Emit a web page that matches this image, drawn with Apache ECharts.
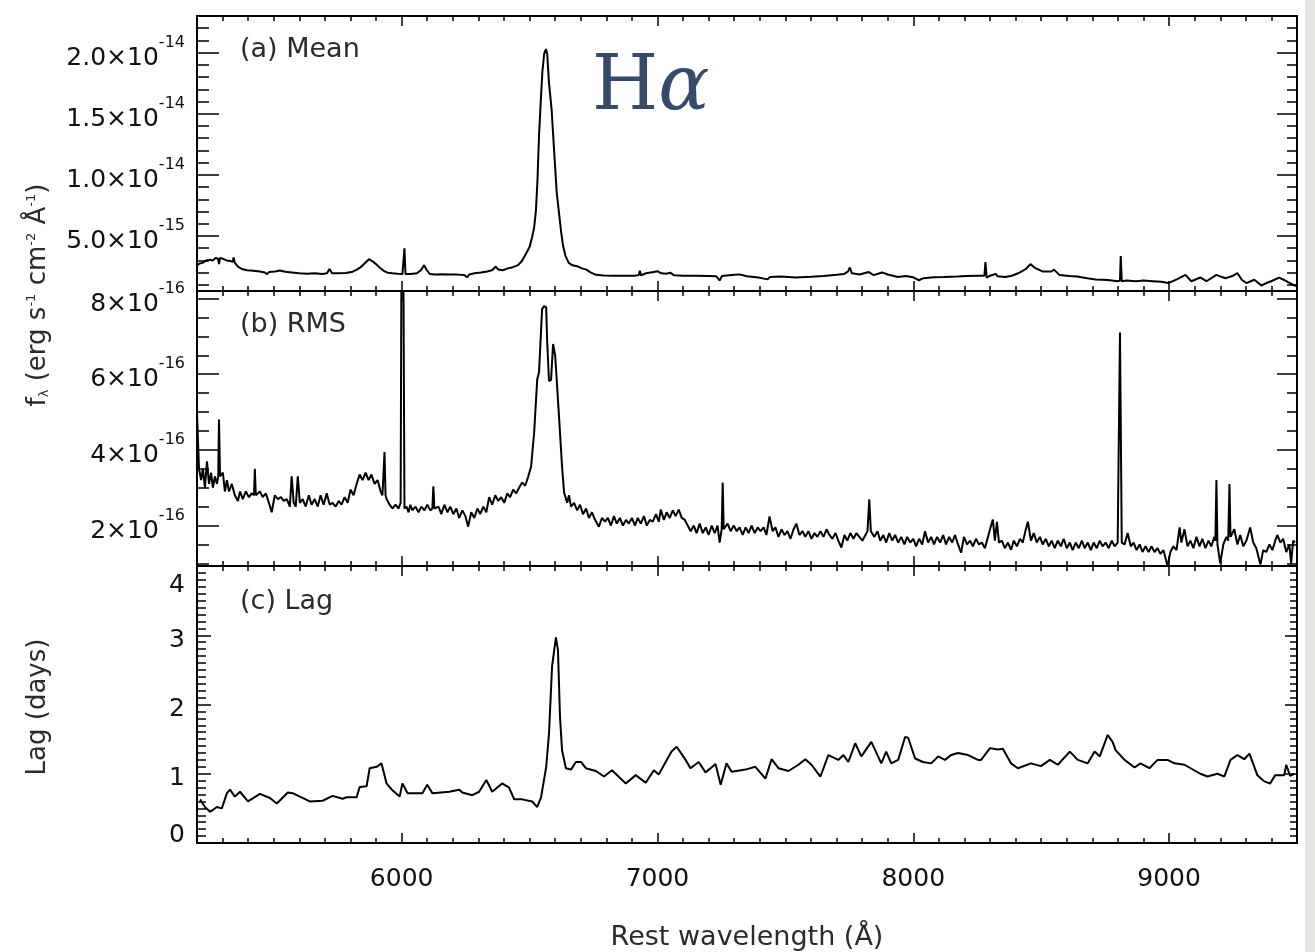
<!DOCTYPE html>
<html>
<head>
<meta charset="utf-8">
<script src="https://cdn.jsdelivr.net/npm/echarts@6/dist/echarts.min.js"></script>
<style>
  html, body { margin: 0; background: #fff; }
  #chart { width: 1315px; height: 952px; }
</style>
</head>
<body>
<div id="chart"></div>
<script>
// wavelength axis (Angstrom)
const waveMin = 5200, waveMax = 9500;
const waveTicks = [6000, 7000, 8000, 9000];

// (a) mean flux, in units of 1e-15 erg/s/cm2/A
const meanTicks = [5, 10, 15, 20];
const meanTickMant = ['5.0', '1.0', '1.5', '2.0'];
const meanTickExp = ['-15', '-14', '-14', '-14'];
const meanSpec = [
  [5200,2.6],[5210,2.75],[5222,2.8],[5235,3.0],[5250,3.05],[5262,3.0],[5272,3.2],[5282,3.15],[5286,2.7],[5290,3.2],
  [5300,3.15],[5315,3.0],[5330,2.95],[5340,2.9],[5343,3.25],[5347,2.85],[5360,2.5],[5375,2.3],[5395,2.2],[5420,2.15],
  [5445,2.1],[5465,2.02],[5473,1.88],[5482,2.05],[5505,2.1],[5524,2.17],[5545,2.08],[5570,2.02],[5600,1.95],[5630,1.92],
  [5660,1.95],[5690,1.9],[5708,1.95],[5718,2.3],[5728,1.95],[5750,1.95],[5780,1.98],[5805,2.05],[5825,2.25],[5840,2.45],
  [5855,2.75],[5872,3.1],[5885,2.95],[5900,2.7],[5915,2.4],[5930,2.15],[5945,2.0],[5965,1.95],[5985,1.92],[6003,1.9],
  [6007,2.0],[6011,4.0],[6015,1.9],[6035,1.9],[6060,1.95],[6075,2.2],[6088,2.62],[6098,2.2],[6110,1.9],[6130,1.85],
  [6160,1.88],[6190,1.84],[6220,1.84],[6245,1.8],[6256,1.62],[6264,1.85],[6285,1.95],[6310,2.02],[6335,2.1],[6355,2.22],
  [6368,2.5],[6378,2.25],[6395,2.2],[6415,2.35],[6435,2.45],[6455,2.62],[6470,2.95],[6486,3.55],[6500,4.1],[6510,4.9],
  [6518,5.7],[6525,7.1],[6531,9.6],[6537,13.2],[6544,16.1],[6550,18.4],[6557,19.9],[6564,20.3],[6569,19.9],[6576,17.5],
  [6586,15.4],[6596,12.0],[6606,8.6],[6615,6.9],[6623,5.4],[6631,4.2],[6640,3.4],[6653,2.8],[6668,2.6],[6690,2.5],
  [6705,2.35],[6722,2.25],[6740,2.0],[6760,1.82],[6790,1.76],[6830,1.74],[6870,1.75],[6910,1.74],[6927,1.8],[6931,2.15],
  [6936,1.78],[6955,1.95],[6985,2.05],[7000,2.12],[7015,1.95],[7035,1.92],[7050,2.0],[7065,1.78],[7100,1.74],[7150,1.74],
  [7200,1.72],[7230,1.7],[7243,1.36],[7252,1.72],[7290,1.8],[7320,1.86],[7350,1.7],[7395,1.6],[7430,1.45],[7440,1.65],
  [7480,1.68],[7540,1.6],[7600,1.66],[7650,1.72],[7700,1.82],[7730,1.9],[7745,2.1],[7752,2.42],[7760,1.95],[7790,1.85],
  [7826,2.05],[7845,1.8],[7878,2.02],[7900,1.85],[7940,1.65],[7970,1.72],[8000,1.62],[8022,1.38],[8040,1.55],[8080,1.62],
  [8120,1.64],[8170,1.68],[8210,1.72],[8250,1.75],[8278,1.75],[8282,2.86],[8287,1.6],[8300,1.75],[8322,1.9],[8330,1.7],
  [8360,1.65],[8385,1.75],[8410,1.95],[8440,2.3],[8458,2.7],[8475,2.4],[8505,2.1],[8540,2.1],[8550,2.25],[8572,1.8],
  [8610,1.72],[8640,1.68],[8680,1.55],[8713,1.45],[8760,1.4],[8800,1.3],[8808,1.35],[8811,3.37],[8815,1.3],[8834,1.35],
  [8870,1.3],[8900,1.35],[8936,1.3],[8970,1.25],[8997,1.15],[9030,1.45],[9064,1.82],[9087,1.3],[9110,1.5],[9123,1.6],
  [9146,1.3],[9185,1.82],[9205,1.65],[9222,1.55],[9250,1.75],[9267,1.96],[9285,1.4],[9302,1.15],[9333,1.42],[9361,0.95],
  [9380,1.15],[9399,1.3],[9430,1.6],[9450,1.4],[9467,1.2],[9490,0.95],[9500,0.9]
];

// (b) rms flux, in units of 1e-16 erg/s/cm2/A
const rmsTicks = [2, 4, 6, 8];
const rmsSpec = [
  [5200,5.0],[5204,4.2],[5208,3.5],[5216,3.2],[5223,3.5],[5231,3.0],[5239,3.7],[5247,3.1],[5255,3.4],[5262,3.0],
  [5270,3.3],[5278,3.1],[5283,3.3],[5286,4.8],[5290,3.3],[5301,3.4],[5309,2.9],[5317,3.2],[5325,2.9],[5336,3.1],
  [5348,2.8],[5360,2.65],[5368,2.9],[5379,2.7],[5391,2.9],[5403,2.75],[5414,2.85],[5423,2.8],[5426,3.5],[5430,2.8],
  [5446,2.9],[5457,2.75],[5469,2.85],[5481,2.6],[5492,2.35],[5504,2.8],[5516,2.7],[5528,2.75],[5539,2.65],[5551,2.7],
  [5563,2.5],[5570,3.3],[5578,2.6],[5586,2.5],[5594,3.3],[5602,2.6],[5613,2.7],[5625,2.5],[5637,2.8],[5648,2.55],
  [5660,2.7],[5672,2.5],[5683,2.8],[5695,2.55],[5707,2.85],[5719,2.55],[5730,2.6],[5742,2.5],[5754,2.65],[5765,2.55],
  [5777,2.75],[5789,2.6],[5800,2.95],[5812,2.8],[5824,3.1],[5836,3.35],[5847,3.2],[5859,3.4],[5871,3.2],[5882,3.35],
  [5894,3.1],[5906,3.2],[5918,2.9],[5925,2.8],[5933,3.94],[5937,2.8],[5941,2.7],[5953,2.55],[5964,2.45],[5976,2.55],
  [5988,2.45],[5996,2.6],[5999,8.6],[6007,8.6],[6011,2.45],[6019,2.5],[6027,2.35],[6034,2.55],[6042,2.4],[6054,2.5],
  [6066,2.35],[6077,2.5],[6089,2.4],[6100,2.55],[6112,2.4],[6120,2.45],[6124,3.04],[6128,2.45],[6144,2.5],[6155,2.3],
  [6167,2.55],[6179,2.35],[6190,2.5],[6202,2.3],[6214,2.45],[6225,2.2],[6237,2.4],[6249,2.25],[6260,1.97],[6272,2.35],
  [6284,2.2],[6296,2.45],[6307,2.3],[6319,2.5],[6331,2.35],[6342,2.75],[6354,2.55],[6366,2.8],[6378,2.65],[6389,2.75],
  [6401,2.6],[6413,2.85],[6424,2.75],[6436,2.95],[6448,2.85],[6459,3.0],[6471,3.14],[6483,3.05],[6495,3.3],[6506,3.56],
  [6518,4.46],[6530,5.87],[6537,6.05],[6549,7.72],[6557,7.8],[6565,7.77],[6569,6.85],[6576,5.82],[6584,5.85],[6592,6.8],
  [6600,6.5],[6603,6.2],[6615,4.9],[6627,3.56],[6635,2.87],[6647,2.6],[6654,2.8],[6662,2.5],[6674,2.6],[6686,2.4],
  [6697,2.55],[6709,2.3],[6721,2.45],[6732,2.2],[6744,2.35],[6756,2.15],[6771,1.97],[6783,2.2],[6795,2.1],[6806,2.2],
  [6818,2.0],[6830,2.25],[6841,2.05],[6853,2.2],[6865,2.0],[6877,2.15],[6888,2.05],[6900,2.2],[6912,2.0],[6923,2.2],
  [6935,2.05],[6947,2.25],[6958,2.0],[6970,2.15],[6982,2.1],[6994,2.3],[7005,2.1],[7013,2.42],[7025,2.15],[7036,2.35],
  [7048,2.2],[7060,2.4],[7071,2.25],[7083,2.42],[7095,2.2],[7107,2.15],[7118,2.0],[7130,1.85],[7142,2.0],[7153,1.8],
  [7165,2.05],[7177,1.8],[7189,1.95],[7200,1.75],[7212,2.0],[7224,1.8],[7235,2.0],[7243,1.55],[7251,1.9],[7255,3.14],
  [7259,1.9],[7274,2.05],[7286,1.85],[7298,2.0],[7310,1.85],[7321,1.95],[7333,1.75],[7345,1.95],[7356,1.8],[7368,2.0],
  [7380,1.8],[7392,1.95],[7403,1.85],[7415,1.95],[7426,1.75],[7438,2.24],[7450,1.85],[7461,1.95],[7473,1.7],[7485,1.9],
  [7497,1.75],[7508,1.85],[7520,1.65],[7532,1.9],[7543,2.05],[7555,1.75],[7567,1.85],[7578,1.7],[7590,1.85],[7602,1.65],
  [7614,1.8],[7625,1.7],[7637,1.85],[7649,1.7],[7661,1.9],[7672,1.75],[7684,1.65],[7696,1.8],[7707,1.6],[7719,1.42],
  [7731,1.75],[7742,1.6],[7754,1.8],[7766,1.65],[7778,1.8],[7789,1.7],[7801,1.6],[7813,1.75],[7821,1.85],[7828,2.69],
  [7834,1.85],[7848,1.7],[7860,1.85],[7871,1.6],[7883,1.75],[7894,1.55],[7906,1.8],[7918,1.6],[7929,1.75],[7941,1.55],
  [7953,1.7],[7965,1.5],[7976,1.7],[7988,1.55],[8000,1.65],[8011,1.45],[8023,1.65],[8035,1.5],[8046,1.85],[8058,1.55],
  [8070,1.7],[8081,1.5],[8093,1.7],[8105,1.55],[8117,1.75],[8128,1.5],[8140,1.7],[8152,1.55],[8163,1.75],[8175,1.5],
  [8187,1.28],[8198,1.7],[8210,1.5],[8222,1.6],[8233,1.45],[8245,1.65],[8257,1.5],[8268,1.55],[8280,1.4],[8292,1.7],
  [8304,2.0],[8311,2.16],[8319,1.6],[8327,2.1],[8335,1.55],[8346,1.6],[8358,1.4],[8370,1.55],[8382,1.36],[8393,1.6],
  [8405,1.45],[8417,1.65],[8428,1.55],[8440,1.9],[8448,2.1],[8460,1.6],[8471,1.8],[8483,1.55],[8495,1.7],[8506,1.5],
  [8518,1.65],[8530,1.45],[8541,1.6],[8553,1.4],[8565,1.6],[8577,1.45],[8588,1.65],[8600,1.4],[8612,1.55],[8623,1.35],
  [8635,1.55],[8647,1.4],[8659,1.6],[8670,1.4],[8682,1.55],[8694,1.35],[8705,1.55],[8717,1.4],[8729,1.6],[8740,1.45],
  [8752,1.55],[8764,1.4],[8776,1.6],[8787,1.45],[8799,1.55],[8805,1.5],[8808,7.1],[8812,7.1],[8815,1.55],[8826,1.5],
  [8838,1.8],[8850,1.45],[8861,1.55],[8873,1.35],[8885,1.5],[8896,1.3],[8908,1.45],[8920,1.3],[8931,1.45],[8943,1.3],
  [8955,1.4],[8966,1.25],[8978,1.35],[8994,0.92],[9005,1.3],[9017,1.45],[9029,1.35],[9041,1.95],[9048,1.55],[9060,1.9],
  [9072,1.45],[9083,1.6],[9095,1.4],[9107,1.7],[9119,1.45],[9130,1.65],[9142,1.4],[9154,1.6],[9165,1.45],[9177,1.7],
  [9181,1.6],[9185,3.2],[9189,1.5],[9200,1.0],[9212,1.5],[9224,1.7],[9231,1.6],[9236,3.1],[9240,1.7],[9255,1.9],
  [9267,1.5],[9278,1.75],[9290,1.45],[9302,1.6],[9317,1.95],[9329,1.55],[9341,1.4],[9357,0.97],[9368,1.35],[9380,1.3],
  [9392,1.5],[9404,1.35],[9415,1.6],[9423,1.75],[9435,1.55],[9446,1.65],[9458,1.3],[9470,1.5],[9477,1.0],[9485,1.6],
  [9492,1.55]
];

// (c) lag in days
const lagTicks = [0, 1, 2, 3, 4];
const lagSpec = [
  [5212,0.63],[5231,0.52],[5251,0.45],[5278,0.52],[5297,0.5],[5317,0.72],[5329,0.77],[5348,0.67],[5368,0.74],[5399,0.6],
  [5446,0.71],[5485,0.65],[5512,0.57],[5555,0.73],[5574,0.72],[5602,0.67],[5641,0.6],[5691,0.61],[5730,0.68],[5769,0.64],
  [5785,0.66],[5824,0.66],[5836,0.81],[5863,0.82],[5875,1.08],[5902,1.1],[5921,1.15],[5941,0.86],[5964,0.76],[5992,0.67],
  [6003,0.86],[6023,0.72],[6042,0.72],[6081,0.72],[6100,0.84],[6120,0.72],[6186,0.74],[6225,0.77],[6237,0.73],[6276,0.69],
  [6303,0.74],[6331,0.91],[6354,0.74],[6393,0.86],[6420,0.8],[6440,0.63],[6471,0.63],[6510,0.6],[6530,0.52],[6545,0.66],
  [6565,1.1],[6576,1.58],[6588,2.55],[6603,2.97],[6611,2.79],[6619,1.82],[6627,1.34],[6642,1.08],[6662,1.06],[6681,1.17],
  [6701,1.17],[6720,1.08],[6759,1.04],[6791,0.96],[6822,1.05],[6876,0.86],[6915,0.98],[6954,0.87],[6986,1.05],[7005,0.99],
  [7032,1.17],[7055,1.32],[7075,1.39],[7110,1.2],[7129,1.08],[7161,1.17],[7188,1.02],[7227,1.14],[7247,0.84],[7270,1.15],
  [7290,1.03],[7344,1.06],[7383,1.1],[7422,0.93],[7446,1.21],[7473,1.08],[7512,1.04],[7551,1.13],[7578,1.21],[7602,1.13],
  [7637,0.96],[7668,1.27],[7707,1.2],[7727,1.27],[7746,1.17],[7773,1.44],[7797,1.25],[7836,1.46],[7875,1.15],[7894,1.32],
  [7914,1.15],[7941,1.2],[7968,1.53],[7980,1.52],[8007,1.22],[8038,1.17],[8070,1.15],[8097,1.25],[8124,1.2],[8148,1.27],
  [8175,1.3],[8214,1.27],[8253,1.2],[8265,1.2],[8300,1.37],[8331,1.35],[8350,1.36],[8382,1.15],[8409,1.08],[8460,1.15],
  [8499,1.11],[8534,1.2],[8565,1.13],[8612,1.32],[8643,1.2],[8682,1.15],[8709,1.32],[8729,1.25],[8760,1.56],[8779,1.46],
  [8791,1.34],[8826,1.2],[8865,1.09],[8888,1.15],[8923,1.08],[8955,1.2],[8994,1.2],[9021,1.15],[9060,1.13],[9122,1.0],
  [9150,0.96],[9189,1.0],[9216,0.96],[9240,1.2],[9267,1.27],[9294,1.21],[9314,1.29],[9345,0.98],[9372,0.89],[9395,0.86],
  [9415,0.98],[9450,0.98],[9458,1.13],[9473,0.97],[9490,1.0]
];

function steps(a, b, d) {
  const out = [];
  for (let v = a; v <= b + 1e-9; v += d) out.push(+v.toFixed(3));
  return out;
}

const FONT = 'DejaVu Sans';
const INK = '#111';
const panels = [
  { top: 16, height: 275, min: 0.5, max: 23, major: meanTicks, minor: steps(1, 23, 1), majLen: 22, minLen: 12 },
  { top: 291, height: 275, min: 0.93, max: 8.2, major: rmsTicks, minor: steps(1, 8, 0.5), majLen: 22, minLen: 12 },
  { top: 566, height: 277, min: 0, max: 4, major: lagTicks, minor: steps(0, 4, 0.1), majLen: 14, minLen: 9 }
];
const waveMinor = steps(5300, 9400, 100);

function tick(vals, len) {
  return { show: true, inside: true, length: len, customValues: vals, lineStyle: { color: '#000', width: 1.5 } };
}

const sup = { fontFamily: FONT, fontSize: 16, color: INK, verticalAlign: 'top', lineHeight: 16 };
const mant = { fontFamily: FONT, fontSize: 25, color: INK, padding: [11, 0, 0, 0] };
const yLabels = [
  {
    formatter: v => { const i = meanTicks.indexOf(v); return `{m|${meanTickMant[i]}×10}{s|${meanTickExp[i]}}`; },
    rich: { m: mant, s: sup }
  },
  {
    formatter: v => `{m|${v}×10}{s|-16}`,
    rich: { m: mant, s: sup }
  },
  {
    formatter: v => v === 0 ? `{lo|0}` : v === 4 ? `{hi|4}` : `{n|${v}}`,
    rich: {
      n: { fontFamily: FONT, fontSize: 25, color: INK, padding: [10, 0, 0, 0] },
      lo: { fontFamily: FONT, fontSize: 25, color: INK, padding: [0, 0, 16, 0] },
      hi: { fontFamily: FONT, fontSize: 25, color: INK, padding: [38, 0, 0, 0] }
    }
  }
];

const grid = [], xAxis = [], yAxis = [], series = [];
const specs = [meanSpec, rmsSpec, lagSpec];
panels.forEach((p, g) => {
  grid.push({ left: 197, right: 18, top: p.top, height: p.height, show: true, borderColor: '#000', borderWidth: 2, backgroundColor: 'transparent' });
  const xb = { gridIndex: g, type: 'value', min: waveMin, max: waveMax, axisLine: { show: false, onZero: false }, splitLine: { show: false } };
  xAxis.push(
    { ...xb, position: 'bottom', axisTick: tick(waveTicks, 10),
      axisLabel: g === 2
        ? { show: true, customValues: waveTicks, formatter: v => String(v), margin: 24, fontFamily: FONT, fontSize: 25, color: INK }
        : { show: false } },
    { ...xb, position: 'bottom', axisTick: tick(waveMinor, 5), axisLabel: { show: false } },
    { ...xb, position: 'top', axisTick: tick(waveTicks, 10), axisLabel: { show: false } },
    { ...xb, position: 'top', axisTick: tick(waveMinor, 5), axisLabel: { show: false } }
  );
  const yb = { gridIndex: g, type: 'value', min: p.min, max: p.max, axisLine: { show: false, onZero: false }, splitLine: { show: false } };
  yAxis.push(
    { ...yb, position: 'left', axisTick: tick(p.major, p.majLen),
      axisLabel: { show: true, customValues: p.major, margin: 12, ...yLabels[g] } },
    { ...yb, position: 'left', axisTick: tick(p.minor, p.minLen), axisLabel: { show: false } },
    { ...yb, position: 'right', axisTick: tick(p.major, p.majLen - 2), axisLabel: { show: false } },
    { ...yb, position: 'right', axisTick: tick(p.minor, p.minLen - 2), axisLabel: { show: false } }
  );
  series.push({
    type: 'line', xAxisIndex: g * 4, yAxisIndex: g * 4, data: specs[g],
    showSymbol: false, symbol: 'none', animation: false, clip: true,
    lineStyle: { color: '#000', width: 2 }
  });
});

const panelText = (y, t) => ({
  type: 'text', left: 240, top: y - 15,
  style: { text: t, fill: '#2b2b2b', font: `27px "${FONT}"` }
});

const chart = echarts.init(document.getElementById('chart'));
chart.setOption({
  backgroundColor: '#fff',
  animation: false,
  grid, xAxis, yAxis, series,
  graphic: [
    { type: 'rect', shape: { x: 1305, y: 0, width: 10, height: 952 }, style: { fill: '#e7e5e1' } },
    panelText(51, '(a) Mean'),
    panelText(326, '(b) RMS'),
    panelText(603, '(c) Lag'),
    {
      type: 'text', left: 592, top: 51,
      style: {
        text: '{h|H}{a|α}',
        rich: {
          h: { fontFamily: 'DejaVu Serif', fontSize: 76, fill: '#364b6b', color: '#364b6b' },
          a: { fontFamily: 'DejaVu Serif', fontSize: 76, fontStyle: 'italic', fill: '#364b6b', color: '#364b6b' }
        }
      }
    },
    {
      type: 'text', x: 38, y: 295, rotation: Math.PI / 2,
      style: {
        text: 'f{sub|λ} (erg s{sup|-1} cm{sup|-2} Å{sup|-1})',
        align: 'center', verticalAlign: 'middle', textAlign: 'center', textVerticalAlign: 'middle',
        fill: '#2b2b2b', font: `26px "${FONT}"`,
        rich: {
          sup: { fontFamily: FONT, fontSize: 13, fill: '#2b2b2b', verticalAlign: 'top', lineHeight: 13 },
          sub: { fontFamily: FONT, fontSize: 13, fill: '#2b2b2b', verticalAlign: 'bottom', lineHeight: 13 }
        }
      }
    },
    {
      type: 'text', x: 38, y: 707, rotation: Math.PI / 2,
      style: { text: 'Lag (days)', align: 'center', verticalAlign: 'middle', textAlign: 'center', textVerticalAlign: 'middle', fill: '#2b2b2b', font: `26px "${FONT}"` }
    },
    {
      type: 'text', x: 747, y: 938,
      style: { text: 'Rest wavelength (Å)', align: 'center', verticalAlign: 'middle', textAlign: 'center', textVerticalAlign: 'middle', fill: '#2b2b2b', font: `27px "${FONT}"` }
    }
  ]
});
</script>
</body>
</html>
